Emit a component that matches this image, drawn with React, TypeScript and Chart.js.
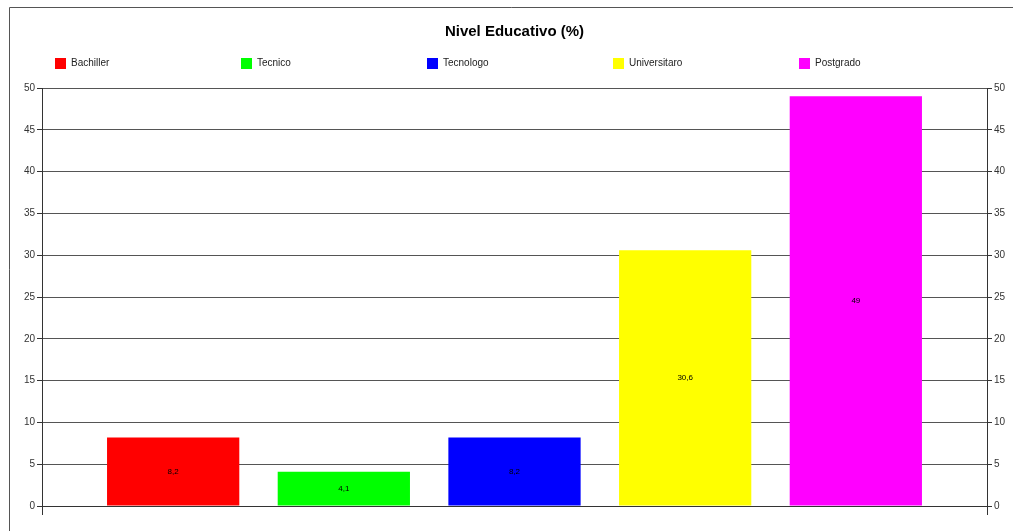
import React, { useEffect, useRef } from "react";
import { Chart, registerables } from "chart.js";

Chart.register(...registerables);

const title = "Nivel Educativo (%)";
const seriesNames = ["Bachiller", "Tecnico", "Tecnologo", "Universitaro", "Postgrado"];
const seriesValues = [8.2, 4.1, 8.2, 30.6, 49];
const seriesColors = ["#ff0000", "#00ff00", "#0000ff", "#ffff00", "#ff00ff"];
const categories = [""];
const yMin = 0;
const yMax = 50;
const yStep = 5;

const FONT = "'Liberation Sans', Arial, sans-serif";

const decorPlugin = {
  id: "decor",
  beforeDraw(chart: any) {
    const ctx = chart.ctx;
    ctx.save();
    ctx.fillStyle = "#ffffff";
    ctx.fillRect(0, 0, chart.width, chart.height);
    ctx.strokeStyle = "#555555";
    ctx.lineWidth = 1;
    ctx.beginPath();
    ctx.moveTo(9.5, chart.height);
    ctx.lineTo(9.5, 7.5);
    ctx.lineTo(chart.width, 7.5);
    ctx.stroke();
    ctx.restore();
  },
  afterDraw(chart: any) {
    const ctx = chart.ctx;
    const area = chart.chartArea;
    ctx.save();
    // title
    ctx.fillStyle = "#000000";
    ctx.font = `bold 15px ${FONT}`;
    ctx.textAlign = "center";
    ctx.textBaseline = "middle";
    ctx.fillText(title, (area.left + area.right) / 2, 32);
    // legend
    ctx.font = `10px ${FONT}`;
    ctx.textAlign = "left";
    chart.data.datasets.forEach((ds: any, i: number) => {
      const x = 55 + i * 186;
      ctx.fillStyle = ds.backgroundColor;
      ctx.fillRect(x, 58, 11, 11);
      ctx.fillStyle = "#222222";
      ctx.fillText(ds.label, x + 16, 63.5);
    });
    // data labels
    ctx.font = `8px ${FONT}`;
    ctx.textAlign = "center";
    ctx.fillStyle = "#000000";
    chart.data.datasets.forEach((ds: any, i: number) => {
      const meta = chart.getDatasetMeta(i);
      meta.data.forEach((el: any, j: number) => {
        const v = ds.data[j];
        const y = (el.y + el.base) / 2;
        ctx.fillText(String(v).replace(".", ","), el.x, y);
      });
    });
    ctx.restore();
  },
};

export default function App() {
  const ref = useRef<HTMLCanvasElement>(null);
  useEffect(() => {
    document.body.style.margin = "0";
    const canvas = ref.current!;
    const tickFont = { family: FONT, size: 10 };
    const chart = new Chart(canvas, {
      type: "bar",
      data: {
        labels: categories,
        datasets: seriesNames.map((name, i) => ({
          label: name,
          data: [seriesValues[i]],
          backgroundColor: seriesColors[i],
          borderWidth: 0,
          categoryPercentage: 0.903,
          barPercentage: 0.775,
          yAxisID: "y",
        })),
      },
      options: {
        animation: false,
        responsive: false,
        devicePixelRatio: 1,
        layout: { padding: { top: 88, left: 0, right: 0, bottom: 0 } },
        plugins: {
          legend: { display: false },
          title: { display: false },
          tooltip: { enabled: false },
        },
        scales: {
          x: {
            offset: true,
            ticks: { display: false },
            grid: {
              offset: true,
              drawOnChartArea: false,
              drawTicks: true,
              tickLength: 9,
              color: "#333333",
              tickColor: "#333333",
            },
            border: { display: true, color: "#333333" },
            afterFit(scale: any) {
              scale.height = 25;
            },
          },
          y: {
            position: "left",
            min: yMin,
            max: yMax,
            ticks: { stepSize: yStep, color: "#333333", font: tickFont, padding: 2 },
            grid: { color: "#555555", tickColor: "#333333", tickLength: 5 },
            border: { display: true, color: "#333333" },
            afterFit(scale: any) {
              scale.width = 42;
            },
          },
          y2: {
            position: "right",
            min: yMin,
            max: yMax,
            ticks: { stepSize: yStep, color: "#333333", font: tickFont, padding: 2 },
            grid: { drawOnChartArea: false, tickColor: "#333333", tickLength: 5 },
            border: { display: true, color: "#333333" },
            afterFit(scale: any) {
              scale.width = 26;
            },
          },
        },
      },
      plugins: [decorPlugin],
    });
    return () => chart.destroy();
  }, []);
  return (
    <div style={{ position: "absolute", left: 0, top: 0, width: 1013, height: 531 }}>
      <canvas ref={ref} width={1013} height={531} />
    </div>
  );
}
